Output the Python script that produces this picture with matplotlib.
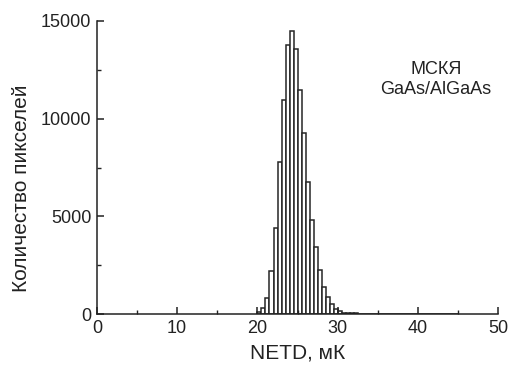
import numpy as np
import matplotlib
matplotlib.use("Agg")
from matplotlib import pyplot as plt
from matplotlib.ticker import MultipleLocator

plt.rcParams['font.family'] = ['Liberation Sans', 'DejaVu Sans']

# histogram bins (left edges, width 0.5 mK) and pixel counts
bin_left = [20.0, 20.5, 21.0, 21.5, 22.0, 22.5, 23.0, 23.5, 24.0, 24.5,
            25.0, 25.5, 26.0, 26.5, 27.0, 27.5, 28.0, 28.5, 29.0, 29.5,
            30.0, 30.5, 31.0, 31.5, 32.0, 32.5, 33.0, 33.5, 34.0, 34.5,
            35.0, 35.5, 36.0, 36.5, 37.0, 37.5, 38.0, 38.5, 39.0, 39.5,
            40.0, 40.5, 41.0, 41.5, 42.0, 42.5, 43.0, 43.5, 44.0, 44.5]
counts = [120, 300, 820, 2190, 4410, 7800, 10960, 13780, 14480, 13540,
          11450, 9250, 6770, 4800, 3460, 2270, 1380, 860, 520, 270,
          160, 90, 60, 50, 45, 40, 36, 32, 30, 28,
          26, 24, 22, 20, 19, 18, 17, 16, 15, 14,
          13, 12, 11, 10, 10, 9, 9, 8, 8, 7]
bin_width = 0.5

fig = plt.figure(figsize=(5.1, 3.7), dpi=100)
ax = fig.add_axes([0.19, 0.1505, 0.787, 0.7935])

ax.bar(bin_left, counts, width=bin_width, align='edge',
       facecolor='white', edgecolor='#262626', linewidth=1.1)

ax.set_xlim(0, 50)
ax.set_ylim(0, 15000)
ax.xaxis.set_major_locator(MultipleLocator(10))
ax.xaxis.set_minor_locator(MultipleLocator(5))
ax.yaxis.set_major_locator(MultipleLocator(5000))
ax.yaxis.set_minor_locator(MultipleLocator(2500))

for side in ('top', 'right'):
    ax.spines[side].set_visible(False)
for side in ('left', 'bottom'):
    ax.spines[side].set_linewidth(1.1)
    ax.spines[side].set_color('#222222')

ax.tick_params(which='major', direction='in', length=5, width=1.1,
               labelsize=13, colors='#222222', pad=4)
ax.tick_params(which='minor', direction='in', length=3, width=1.0,
               colors='#222222')

ax.set_xlabel('NETD, мК', fontsize=15, color='#222222', labelpad=5)
ax.set_ylabel('Количество пикселей', fontsize=15, color='#222222')
ax.yaxis.set_label_coords(-0.165, 0.43)

ax.text(0.845, 0.80, 'МСКЯ\nGaAs/AlGaAs', transform=ax.transAxes,
        ha='center', va='center', fontsize=13, color='#222222',
        linespacing=1.2, multialignment='center')

fig.savefig('out.png', dpi=100)
